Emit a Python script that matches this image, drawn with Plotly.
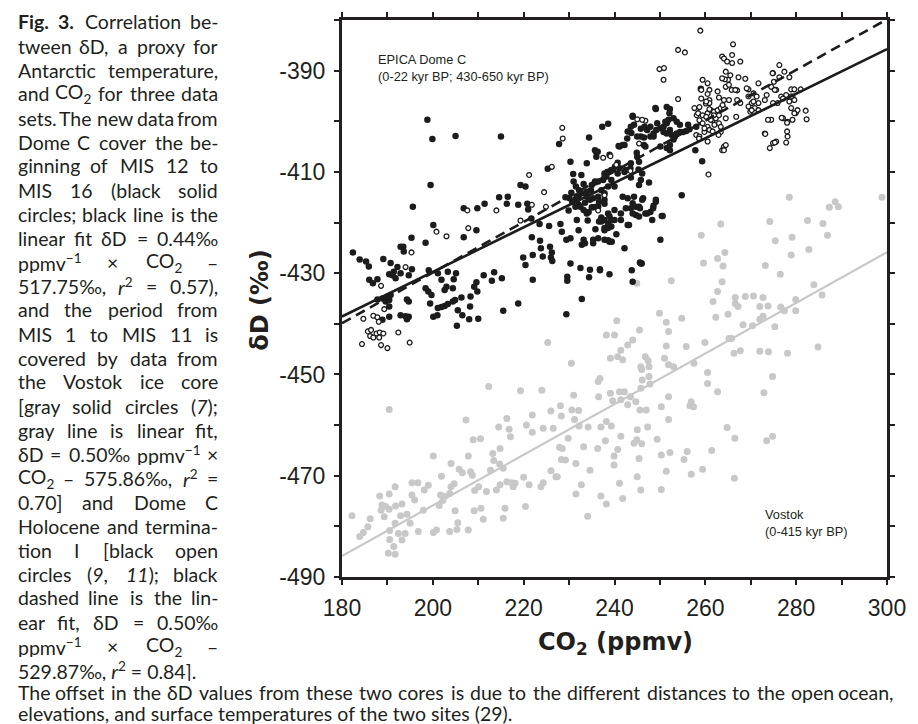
import re
import plotly.graph_objects as go

# ---------------- data (CO2 ppmv, deltaD permil) ----------------
dome_c_mis12_16 = [
    (198.8,-399.7),(199.9,-403.5),(205.0,-402.9),(215.0,-403.0),(199.5,-412.6),(195.6,-416.9),(195.3,-423.0),(193.5,-424.8),
    (182.4,-425.9),(183.9,-427.3),(185.3,-427.7),(185.9,-428.7),(189.1,-427.2),(190.7,-428.0),(192.2,-428.8),(191.4,-429.7),
    (190.4,-430.2),(191.1,-430.4),(191.8,-431.0),(192.9,-430.0),(194.7,-430.4),(195.4,-429.2),(186.0,-431.3),(186.8,-432.0),
    (187.8,-431.2),(192.9,-424.8),(193.6,-425.7),(198.4,-424.0),(200.1,-420.5),(206.8,-422.9),(199.1,-429.4),(201.1,-430.0),
    (203.3,-429.7),(205.1,-430.0),(204.6,-431.2),(201.9,-431.3),(203.0,-432.7),(202.6,-433.3),(204.4,-433.0),(198.4,-433.0),
    (199.0,-433.6),(199.7,-434.3),(199.4,-436.0),(201.1,-436.9),(201.9,-436.7),(202.6,-436.5),(203.3,-436.1),(204.4,-435.6),
    (204.9,-435.3),(205.5,-437.3),(206.5,-438.3),(200.1,-438.6),(201.0,-438.3),(205.3,-440.4),(206.3,-434.8),(208.2,-436.6),
    (208.3,-434.6),(209.8,-433.6),(209.1,-432.7),(209.6,-431.8),(211.2,-430.4),(213.0,-431.5),(213.5,-429.8),(215.2,-431.0),
    (208.0,-439.1),(210.0,-439.0),(215.5,-437.4),(218.8,-436.0),(219.9,-426.9),(220.4,-428.4),(222.0,-426.4),(222.0,-431.3),
    (187.8,-435.2),(188.9,-435.0),(190.0,-434.6),(190.7,-434.3),(190.4,-435.3),(189.6,-435.6),(190.4,-436.6),(188.9,-439.2),
    (190.4,-438.6),(192.9,-438.3),(194.0,-438.5),(194.3,-439.1),(194.7,-438.6),(194.3,-435.2),(194.7,-435.6),
    (206.8,-417.2),(209.8,-417.2),(211.4,-416.3),(214.6,-415.0),(216.5,-414.9),(216.3,-416.3),(218.8,-416.5),(220.8,-416.3),
    (221.0,-417.4),(219.3,-412.6),(220.4,-412.9),(209.6,-421.5),(221.8,-422.9),(223.6,-423.6),(223.8,-425.1),(225.8,-424.8),
    (226.2,-425.9),(226.0,-426.9),(225.6,-420.7),(228.1,-420.3),(221.7,-419.2),(223.5,-420.3),(224.2,-426.7),(226.3,-427.6),
    (228.4,-421.8),(230.3,-428.1),(232.5,-429.0),(229.6,-431.5),(234.6,-429.3),(234.4,-430.8),(236.8,-429.4),(238.9,-430.2),
    (232.8,-435.1),(230.3,-408.0),(233.9,-408.3),(234.4,-403.2),(237.3,-401.1),(238.6,-400.5),(236.3,-406.0),(227.8,-404.5),
    (225.3,-409.4),(230.9,-410.4),(232.7,-410.6),(231.0,-411.9),(231.5,-412.9),(232.2,-413.6),(233.2,-412.4),(230.5,-414.1),
    (231.7,-414.8),(232.8,-414.2),(233.9,-414.9),(232.1,-416.5),(233.5,-416.1),(234.6,-415.5),(235.3,-415.2),(235.3,-417.0),
    (236.4,-411.9),(237.5,-411.6),(238.2,-410.9),(238.9,-409.9),(239.3,-411.6),(238.6,-412.9),(237.1,-413.6),(237.8,-414.2),
    (236.4,-414.9),(237.8,-415.5),(240.0,-412.9),(229.9,-417.6),(231.7,-419.5),(233.9,-418.2),(234.1,-419.6),(236.4,-416.9),
    (237.8,-416.3),(238.6,-418.2),(237.1,-419.8),(239.3,-419.5),(237.8,-421.5),(239.3,-420.8),(241.8,-414.9),(242.9,-415.2),
    (244.0,-416.2),(245.4,-416.9),(243.6,-417.2),(241.4,-418.2),(243.2,-420.5),(245.4,-418.8),(237.8,-423.4),(236.4,-423.1),
    (235.3,-423.4),(232.1,-421.5),(232.8,-424.4),(233.5,-424.1),(229.4,-423.4),(230.3,-423.1),(243.8,-429.4),(244.0,-431.7),
    (245.8,-428.1),(242.2,-425.1),(229.4,-438.1),(229.6,-430.7),(241.1,-405.0),(242.2,-404.7),(242.8,-403.4),(243.6,-401.1),
    (244.0,-399.1),(245.0,-403.0),(245.8,-401.5),(244.9,-406.2),(240.7,-408.2),(240.1,-409.0),(239.3,-409.6),(240.7,-410.3),
    (242.5,-409.6),(243.6,-408.3),(245.4,-408.0),(246.1,-410.3),
    (246.5,-403.2),(247.9,-403.0),(248.6,-402.4),(249.2,-401.7),(250.1,-401.4),(250.8,-402.1),(251.5,-402.4),(252.2,-401.7),
    (252.6,-402.7),(253.3,-403.0),(253.7,-402.4),(254.4,-402.1),(255.1,-402.1),(255.8,-401.9),(256.5,-401.6),(256.2,-400.7),
    (254.4,-400.7),(251.5,-400.4),(250.8,-401.1),(249.4,-400.4),(247.9,-401.1),(247.2,-401.7),(246.6,-401.1),(244.3,-400.7),
    (243.7,-402.3),(249.1,-397.6),(251.5,-397.2),(252.2,-397.6),(252.1,-398.4),(253.0,-403.6),(252.2,-404.7),(251.5,-405.3),
    (252.2,-405.7),(246.5,-404.7),(250.1,-405.0),(245.0,-407.0),(243.5,-409.3),(242.2,-410.0),(238.4,-410.0),(237.8,-411.0),
    (235.7,-412.1),(235.0,-412.6),(234.8,-413.6),(233.9,-413.9),(232.1,-414.9),(231.4,-415.5),(230.7,-415.9),(230.1,-415.2),
    (229.2,-415.0),(243.6,-411.1),(245.8,-411.6),(245.3,-409.5),(247.6,-412.1),(245.4,-412.6),(244.3,-414.9),(246.3,-415.2),
    (249.1,-415.5),(246.8,-418.2),(247.9,-417.9),(248.6,-416.7),(250.6,-418.7),(250.1,-423.4),(254.8,-414.6),(259.3,-407.9),
    (246.0,-428.1),(240.4,-422.3),(241.4,-419.5),(238.6,-421.1),(235.8,-421.3),(238.6,-423.5),(239.4,-423.8),(233.2,-423.4),
    (235.3,-424.1),(235.0,-417.0),(234.3,-417.9),(233.2,-417.5),(232.5,-416.9),(231.7,-415.6),(231.4,-416.9),(237.1,-419.0),
    (236.6,-419.8),(237.8,-419.5),(238.6,-420.2),(240.0,-417.5),(236.6,-415.9),(236.0,-416.9),(236.0,-406.1),(240.9,-404.9),
    (238.9,-418.8),(240.0,-419.5),(237.8,-421.1),(242.9,-420.5),(244.7,-418.5),(245.6,-417.2),(247.2,-418.2),(248.3,-419.5),
    (249.1,-415.9),(238.9,-423.8),(249.0,-397.4),(244.0,-398.9),(242.9,-402.0),(245.8,-403.0),(246.8,-405.0),(248.6,-403.0),
    (251.2,-400.1),(251.9,-399.7),(253.0,-399.4),(253.7,-400.1),(241.8,-404.7),(235.7,-405.7),(236.0,-407.0),(238.9,-406.6),
    (237.8,-410.3),(235.7,-411.9),(241.1,-409.3),(258.0,-401.1),(244.7,-416.9),(246.1,-415.5),(242.5,-417.2),(244.0,-418.2),
    (248.5,-417.2),(257.8,-405.7),(259.0,-393.6),(250.4,-418.7),(245.6,-427.9),(236.8,-429.2),
]

dome_c_holocene = [
    (200.8,-421.8),(203.0,-422.7),(207.8,-421.1),(195.3,-425.9),(194.0,-428.8),(188.6,-432.5),(189.3,-437.1),(184.7,-439.0),
    (186.9,-438.4),(187.8,-438.7),(188.1,-439.6),(185.7,-441.5),(186.4,-441.2),(186.2,-442.4),(186.9,-442.7),(187.6,-441.9),
    (188.3,-441.7),(189.1,-441.9),(188.2,-442.7),(192.4,-441.7),(184.4,-444.0),(188.6,-444.2),(190.0,-444.8),(194.9,-443.7),
    (207.6,-417.6),(214.0,-417.6),(219.3,-419.6),(221.2,-410.6),(221.8,-416.5),(224.5,-414.0),(224.9,-416.9),(226.2,-409.0),
    (228.5,-401.3),(228.6,-403.4),(237.5,-407.2),(239.1,-406.9),(240.4,-408.6),(243.5,-409.8),(237.8,-414.6),(236.4,-417.6),
    (245.4,-404.4),(245.0,-399.6),(246.8,-399.9),(246.1,-399.7),
    (257.6,-397.4),(258.1,-398.8),(258.7,-399.8),(258.0,-402.7),(259.8,-402.1),(260.5,-401.1),(260.9,-401.7),(261.6,-399.8),
    (262.3,-399.4),(262.0,-400.7),(263.0,-400.4),(263.4,-402.1),(260.1,-396.5),(260.9,-395.8),(263.7,-405.7),(260.7,-410.5),
    (260.5,-404.0),(258.9,-382.1),(254.0,-385.9),(255.5,-386.4),(266.1,-384.8),(249.9,-389.7),(250.9,-389.5),(250.8,-391.8),
    (254.0,-395.6),(263.7,-387.2),(264.1,-387.6),(265.9,-386.9),(264.8,-388.2),(265.9,-388.5),(267.7,-388.2),(264.5,-390.2),
    (265.5,-390.9),(265.0,-391.8),(264.3,-391.7),(263.7,-391.5),(267.3,-391.3),(268.8,-391.6),(259.4,-391.8),(260.5,-392.5),
    (260.9,-393.8),(259.1,-395.5),(260.5,-394.6),(262.7,-394.1),(263.0,-395.3),(264.5,-393.2),(265.2,-392.8),(265.8,-393.8),
    (267.0,-393.9),(265.2,-395.8),(264.1,-395.8),(258.4,-398.4),(259.4,-398.8),(260.5,-398.4),(261.2,-397.8),(261.9,-398.1),
    (262.7,-397.8),(263.4,-397.4),(264.1,-397.4),(264.5,-399.4),(263.0,-398.8),(261.2,-399.7),(259.8,-401.4),(259.4,-400.4),
    (258.7,-403.0),(263.4,-401.1),(262.9,-402.7),(264.1,-405.0),(264.5,-404.7),(266.8,-399.1),
    (269.5,-393.7),(270.6,-394.5),(271.7,-392.5),(273.5,-394.8),(274.5,-393.2),(274.9,-390.5),(276.3,-388.9),(277.4,-390.2),
    (278.5,-391.3),(276.3,-391.3),(275.1,-392.2),(275.6,-393.8),(278.9,-393.7),(277.8,-394.8),(276.7,-395.1),(279.2,-395.1),
    (281.0,-393.7),(278.5,-396.1),(279.6,-395.8),(275.9,-396.4),(274.9,-396.4),(273.1,-395.8),(271.7,-396.4),(270.9,-397.4),
    (270.2,-396.4),(269.5,-397.1),(269.9,-398.1),(274.5,-399.7),(273.8,-399.7),(277.1,-399.4),(278.1,-400.1),(279.2,-399.7),
    (278.9,-397.4),(279.9,-398.4),(282.1,-397.9),(282.3,-399.6),(278.0,-402.0),(278.1,-403.0),(277.8,-404.2),(275.6,-404.0),
    (274.9,-404.3),(274.2,-405.3),(273.1,-402.4),
    (266.6,-393.8),(269.1,-393.5),(267.0,-395.8),(267.7,-396.4),(269.5,-395.1),(270.6,-396.1),(271.3,-395.1),(270.2,-397.8),
    (271.7,-397.8),(263.8,-396.8),(261.6,-402.0),(260.2,-399.1),(261.9,-398.8),(260.9,-397.6),(258.7,-397.2),(260.9,-396.4),
    (260.2,-396.1),(259.1,-393.8),(274.8,-390.5),(275.3,-393.8),(277.1,-395.5),(278.9,-395.1),(279.6,-393.7),(280.3,-397.8),
    (279.6,-398.4),(278.0,-400.3),(276.8,-399.3),(273.2,-402.5),(275.3,-404.2),(264.1,-405.7),(258.6,-403.4),
]

vostok = [
    (182.2,-477.9),(183.9,-482.0),(184.7,-481.2),(185.7,-480.1),(186.2,-478.5),(188.3,-474.0),(190.4,-473.6),(191.7,-472.2),
    (188.8,-475.8),(189.6,-476.1),(188.6,-476.8),(189.3,-478.1),(190.4,-476.6),(191.8,-476.0),(193.2,-475.6),(190.5,-480.8),
    (191.7,-479.4),(192.4,-481.4),(193.2,-482.7),(193.9,-481.4),(191.4,-484.0),(190.2,-485.3),(191.7,-485.5),(190.5,-482.6),
    (192.9,-477.9),(194.3,-477.6),(195.0,-479.4),(195.4,-473.8),(196.0,-474.8),(195.4,-471.4),(196.7,-471.4),(196.8,-481.0),
    (197.9,-476.8),(198.1,-472.8),(199.0,-471.9),(200.1,-481.2),(200.1,-466.1),(200.8,-480.7),(201.4,-475.9),(201.7,-473.8),
    (202.2,-474.9),(201.9,-470.1),(202.6,-474.1),(203.7,-473.5),(204.0,-467.6),(204.0,-472.2),(204.7,-471.6),(204.9,-476.9),
    (203.7,-481.0),(205.3,-480.6),(205.5,-479.3),(205.8,-468.7),(206.5,-469.4),(207.3,-459.0),(207.8,-466.1),(207.8,-480.7),
    (208.3,-469.2),(208.7,-469.9),(208.9,-462.9),(209.1,-476.9),(209.2,-472.9),(210.1,-472.2),(210.5,-462.7),(210.6,-476.4),
    (211.1,-478.6),(211.8,-473.1),(212.3,-452.4),(212.7,-468.9),(213.2,-465.6),(213.4,-467.0),(214.0,-472.8),(214.5,-460.4),
    (214.7,-467.7),(214.8,-464.6),(214.8,-471.8),(215.5,-468.5),(215.5,-478.4),(215.9,-476.4),(216.3,-458.7),(216.3,-471.2),
    (216.8,-460.8),(217.1,-462.3),(217.3,-471.4),(218.1,-471.5),(217.7,-472.2),(219.3,-453.2),(220.0,-470.3),(220.4,-476.1),
    (220.6,-460.0),(221.2,-471.8),(221.9,-458.0),(221.9,-461.4),(223.8,-472.2),(224.0,-453.1),(224.3,-471.4),(224.3,-460.6),
    (226.0,-457.2),(226.0,-469.0),(226.5,-460.6),(227.1,-470.2),(227.4,-470.2),(228.1,-456.2),(227.9,-464.4),(228.5,-464.6),
    (228.3,-466.8),(229.2,-466.9),(228.3,-458.2),(229.8,-462.6),(230.5,-447.8),(231.0,-454.1),(230.6,-457.0),(231.2,-458.9),
    (231.5,-473.6),(231.5,-467.6),(232.1,-457.1),(232.2,-460.2),(233.2,-464.3),(232.7,-471.8),(234.1,-478.0),(234.6,-468.9),
    (234.2,-460.4),(236.3,-464.6),(236.4,-451.4),(236.8,-450.8),(236.5,-454.4),(237.0,-460.4),(237.0,-474.0),(238.2,-459.3),
    (238.0,-463.1),(238.2,-475.6),(239.1,-446.8),(239.1,-453.7),(239.3,-460.2),(239.6,-455.2),(239.9,-466.1),(239.9,-467.9),
    (190.4,-456.9),(225.3,-443.7),
    (238.2,-442.2),(240.0,-442.2),(240.7,-446.5),(241.4,-445.2),(241.8,-447.1),(242.9,-444.2),(244.0,-443.2),(245.8,-448.5),
    (246.1,-451.1),(245.8,-452.7),(243.5,-454.4),(242.2,-453.4),(241.4,-455.0),(242.9,-456.0),(244.7,-455.4),(244.9,-462.9),
    (245.6,-457.0),(245.0,-460.9),(244.3,-463.6),(245.4,-466.6),(245.0,-470.2),(245.8,-472.8),(241.1,-471.5),(241.1,-453.4),
    (298.9,-415.0),(278.5,-415.0),(287.3,-417.0),(288.6,-415.9),(289.3,-416.9),(263.4,-420.3),(259.1,-422.5),(274.2,-419.8),
    (275.4,-423.6),(279.1,-422.9),(282.5,-419.6),(285.9,-420.2),(286.9,-422.5),(282.8,-425.3),(278.9,-426.4),(273.2,-428.5),
    (276.5,-430.2),(264.3,-425.9),(262.7,-427.1),(263.9,-428.6),(259.6,-428.0),(252.5,-431.5),(244.9,-432.0),
    (263.7,-431.7),(262.7,-433.6),(261.7,-435.6),(266.6,-434.8),(266.6,-436.0),(267.2,-436.6),(268.8,-434.6),(270.6,-434.5),
    (272.7,-434.8),(272.0,-436.6),(273.8,-436.5),(276.6,-436.7),(277.4,-437.4),(279.9,-435.2),(279.9,-437.4),(265.0,-438.1),
    (262.3,-438.7),(268.3,-440.2),(270.4,-440.4),(272.0,-439.1),(272.7,-438.5),(275.3,-440.6),(283.9,-432.3),(285.7,-434.3),
    (284.8,-444.6),(278.1,-445.8),(273.9,-445.5),(272.0,-445.4),(267.7,-445.3),(266.3,-445.8),(265.8,-442.9),(265.2,-442.9),
    (259.9,-443.7),(255.8,-444.5),(254.8,-438.9),(251.9,-441.5),(251.4,-439.7),(249.9,-437.9),(245.5,-441.2),(240.5,-439.4),
    (246.8,-446.5),(247.4,-447.3),(246.0,-449.0),(247.6,-448.5),(251.0,-446.8),(251.9,-448.1),(253.0,-448.5),(251.4,-444.4),
    (257.5,-447.8),(247.6,-450.4),(247.8,-451.9),(247.0,-457.0),(250.3,-456.4),(251.9,-454.4),(256.9,-455.4),(256.6,-456.2),
    (257.4,-456.4),(260.5,-449.6),(260.5,-451.8),(262.7,-453.4),(272.9,-453.6),(274.8,-450.4),(264.8,-460.5),(266.5,-462.6),
    (273.5,-463.1),(274.8,-462.2),(249.4,-462.8),(251.9,-458.9),(247.3,-460.4),(250.3,-465.9),(252.2,-465.4),(256.0,-465.2),
    (261.4,-465.0),(241.4,-462.2),(240.7,-464.8),(246.0,-463.7),(250.3,-472.7),(251.4,-469.1),(256.9,-469.7),(259.4,-468.7),
    (266.4,-470.5),(241.8,-474.5),(255.3,-466.8),
]

# linear fits quoted in the caption: slope (permil/ppmv), intercept (permil)
fit_names = ["MIS 12-16 fit", "Vostok fit", "Holocene/TI fit"]
fit_slopes = [0.44, 0.50, 0.50]
fit_intercepts = [-517.75, -575.86, -529.87]
fit_co2_range = [180, 300]

x_major = [180, 200, 220, 240, 260, 280, 300]
x_labels = ["180", "200", "220", "240", "260", "280", "300"]
x_minor = [190, 210, 230, 250, 270, 290]
y_major = [-490, -470, -450, -430, -410, -390]
y_labels = ["-490", "-470", "-450", "-430", "-410", "-390"]
y_minor = [-480, -460, -440, -420, -400, -380]

caption_col = [
    "<b>Fig.</b> <b>3.</b> Correlation be-",
    "tween δD, a proxy for",
    "Antarctic temperature,",
    "and CO<sub>2</sub> for three data",
    "sets. The new data from",
    "Dome C cover the be-",
    "ginning of MIS 12 to",
    "MIS 16 (black solid",
    "circles; black line is the",
    "linear fit δD = 0.44‰",
    "ppmv<sup>−1</sup> × CO<sub>2</sub> –",
    "517.75‰, <i>r</i><sup>2</sup> = 0.57),",
    "and the period from",
    "MIS 1 to MIS 11 is",
    "covered by data from",
    "the Vostok ice core",
    "[gray solid circles (<i>7</i>);",
    "gray line is linear fit,",
    "δD = 0.50‰ ppmv<sup>−1</sup> ×",
    "CO<sub>2</sub> – 575.86‰, <i>r</i><sup>2</sup> =",
    "0.70] and Dome C",
    "Holocene and termina-",
    "tion I [black open",
    "circles (<i>9</i>, <i>11</i>); black",
    "dashed line is the lin-",
    "ear fit, δD = 0.50‰",
    "ppmv<sup>−1</sup> × CO<sub>2</sub> –",
    "529.87‰, <i>r</i><sup>2</sup> = 0.84].",
]
caption_full = [
    "The offset in the δD values from these two cores is due to the different distances to the open ocean,",
    "elevations, and surface temperatures of the two sites (29).",
]

# ---------------- text width estimate (for justified caption lines) ----------------
CW = {' ': .193, '.': .232, ',': .232, ';': .25, ':': .25, '(': .30, ')': .30, '[': .30, ']': .30,
      '-': .33, '–': .50, '−': .58, '×': .58, '=': .58, '‰': 1.15, 'δ': .55,
      'a': .484, 'b': .547, 'c': .453, 'd': .547, 'e': .517, 'f': .323, 'g': .497, 'h': .545,
      'i': .234, 'j': .234, 'k': .505, 'l': .234, 'm': .802, 'n': .545, 'o': .551, 'p': .547,
      'q': .547, 'r': .382, 's': .426, 't': .356, 'u': .545, 'v': .505, 'w': .754, 'x': .49,
      'y': .505, 'z': .45,
      'A': .68, 'B': .65, 'C': .68, 'D': .75, 'E': .57, 'F': .55, 'G': .72, 'H': .75, 'I': .29,
      'J': .40, 'K': .66, 'L': .50, 'M': .91, 'N': .75, 'O': .78, 'P': .60, 'Q': .78, 'R': .63,
      'S': .53, 'T': .58, 'U': .72, 'V': .68, 'W': 1.0, 'X': .66, 'Y': .63, 'Z': .60}


def est_width(html, size):
    w = 0.0
    scale = 1.0
    bold = 1.0
    for tok in re.split(r'(<[^>]+>)', html):
        if tok.startswith('<'):
            t = tok.lower()
            if t in ('<sub>', '<sup>'):
                scale = 0.7
            elif t in ('</sub>', '</sup>'):
                scale = 1.0
            elif t == '<b>':
                bold = 1.05
            elif t == '</b>':
                bold = 1.0
            continue
        for ch in tok:
            cw = CW.get(ch, 0.58 if ch.isdigit() else 0.5)
            w += cw * scale * bold
    return w * size * 1.03


# ---------------- figure ----------------
PW, PH = 918, 724
L, R, T, B = 342, 898, 20, 577


def pxx(x):
    return (x - L) / (R - L)


def pxy(y):
    return (B - y) / (B - T)


fig = go.Figure()

fig.add_trace(go.Scatter(
    x=[p[0] for p in vostok], y=[p[1] for p in vostok], mode="markers",
    marker=dict(size=7, color="#c8c8c8", line=dict(width=0)), name="Vostok"))
fig.add_trace(go.Scatter(
    x=[p[0] for p in dome_c_mis12_16], y=[p[1] for p in dome_c_mis12_16], mode="markers",
    marker=dict(size=6.5, color="#1c1c1c", line=dict(width=0)), name="Dome C MIS 12-16"))
fig.add_trace(go.Scatter(
    x=[p[0] for p in dome_c_holocene], y=[p[1] for p in dome_c_holocene], mode="markers",
    marker=dict(size=4.8, color="white", line=dict(width=1.3, color="#1c1c1c")), name="Dome C Holocene"))

fit_styles = [dict(color="#1c1c1c", width=2.6),
              dict(color="#c8c8c8", width=2.2),
              dict(color="#1c1c1c", width=2.6, dash="10px,6px")]
for name, m, b, st in zip(fit_names, fit_slopes, fit_intercepts, fit_styles):
    fig.add_trace(go.Scatter(x=fit_co2_range, y=[m * c + b for c in fit_co2_range],
                             mode="lines", line=st, name=name))

axis_common = dict(showline=True, linewidth=3, linecolor="#231f20", mirror="ticks",
                   ticks="outside", ticklen=5, tickwidth=2, tickcolor="#231f20",
                   showgrid=False, zeroline=False,
                   tickfont=dict(family="Liberation Sans, Arial", size=23, color="#231f20"))
fig.update_xaxes(range=[180, 300], tickmode="array", tickvals=x_major, ticktext=x_labels,
                 minor=dict(tickmode="array", tickvals=x_minor, ticks="outside", ticklen=5,
                            tickwidth=2, tickcolor="#231f20", showgrid=False),
                 ticklabelstandoff=3, **axis_common)
fig.update_yaxes(range=[-490, -380], tickmode="array", tickvals=y_major, ticktext=y_labels,
                 minor=dict(tickmode="array", tickvals=y_minor, ticks="outside", ticklen=5,
                            tickwidth=2, tickcolor="#231f20", showgrid=False),
                 ticklabelstandoff=4, **axis_common)

ann = []
CAP_SIZE = 19.5
cap_font = dict(family="Lato, Open Sans, sans-serif", size=CAP_SIZE, color="#231f20")


def justified(line, y, left, right, last=False):
    words = line.split(' ')
    if last or len(words) < 2:
        ann.append(dict(text=line, x=pxx(left), y=pxy(y), xref="paper", yref="paper",
                        xanchor="left", yanchor="middle", showarrow=False, font=cap_font,
                        height=21, borderpad=0))
        return
    widths = [est_width(w, CAP_SIZE) for w in words]
    gap = (right - left - sum(widths)) / (len(words) - 1)
    gap = max(gap, 0.6 * CW[' '] * CAP_SIZE)
    pos = left
    for i, (w, ww) in enumerate(zip(words, widths)):
        if i == 0:
            xa, xv = "left", left
        elif i == len(words) - 1:
            xa, xv = "right", right
        else:
            xa, xv = "center", pos + ww / 2
        ann.append(dict(text=w, x=pxx(xv), y=pxy(y), xref="paper", yref="paper",
                        xanchor=xa, yanchor="middle", showarrow=False, font=cap_font,
                        height=21, borderpad=0))
        pos += ww + gap


for i, line in enumerate(caption_col):
    justified(line, 22 + 24 * i, 10, 217, last=(i == len(caption_col) - 1))
justified(caption_full[0], 692, 10, 906)
justified(caption_full[1], 713, 10, 906, last=True)

lab_font = dict(family="Liberation Sans, Arial", size=12.8, color="#231f20")
ann.append(dict(text="EPICA Dome C<br>(0-22 kyr BP; 430-650 kyr BP)", x=pxx(377), y=pxy(50),
                xref="paper", yref="paper", xanchor="left", yanchor="top", align="left",
                showarrow=False, font=lab_font))
ann.append(dict(text="Vostok<br>(0-415 kyr BP)", x=pxx(771), y=pxy(505),
                xref="paper", yref="paper", xanchor="left", yanchor="top", align="left",
                showarrow=False, font=lab_font))

title_font = dict(family="DejaVu Sans, Liberation Sans", size=24, color="#231f20")
ann.append(dict(text="<b>CO<sub>2</sub> (ppmv)</b>", x=pxx(621), y=pxy(643), xref="paper", yref="paper",
                xanchor="center", yanchor="middle", showarrow=False, font=title_font))
ann.append(dict(text="<b>δD (‰)</b>", x=pxx(258), y=pxy(300), xref="paper", yref="paper",
                xanchor="center", yanchor="middle", showarrow=False, textangle=-90, font=title_font))

fig.update_layout(width=PW, height=PH,
                  margin=dict(l=L, r=PW - R, t=T, b=PH - B, pad=0),
                  paper_bgcolor="white", plot_bgcolor="white", showlegend=False,
                  annotations=ann)

fig.write_html("out.html", config={"displayModeBar": False},
               post_script="document.body.style.margin='0px';document.body.style.overflow='hidden';")
